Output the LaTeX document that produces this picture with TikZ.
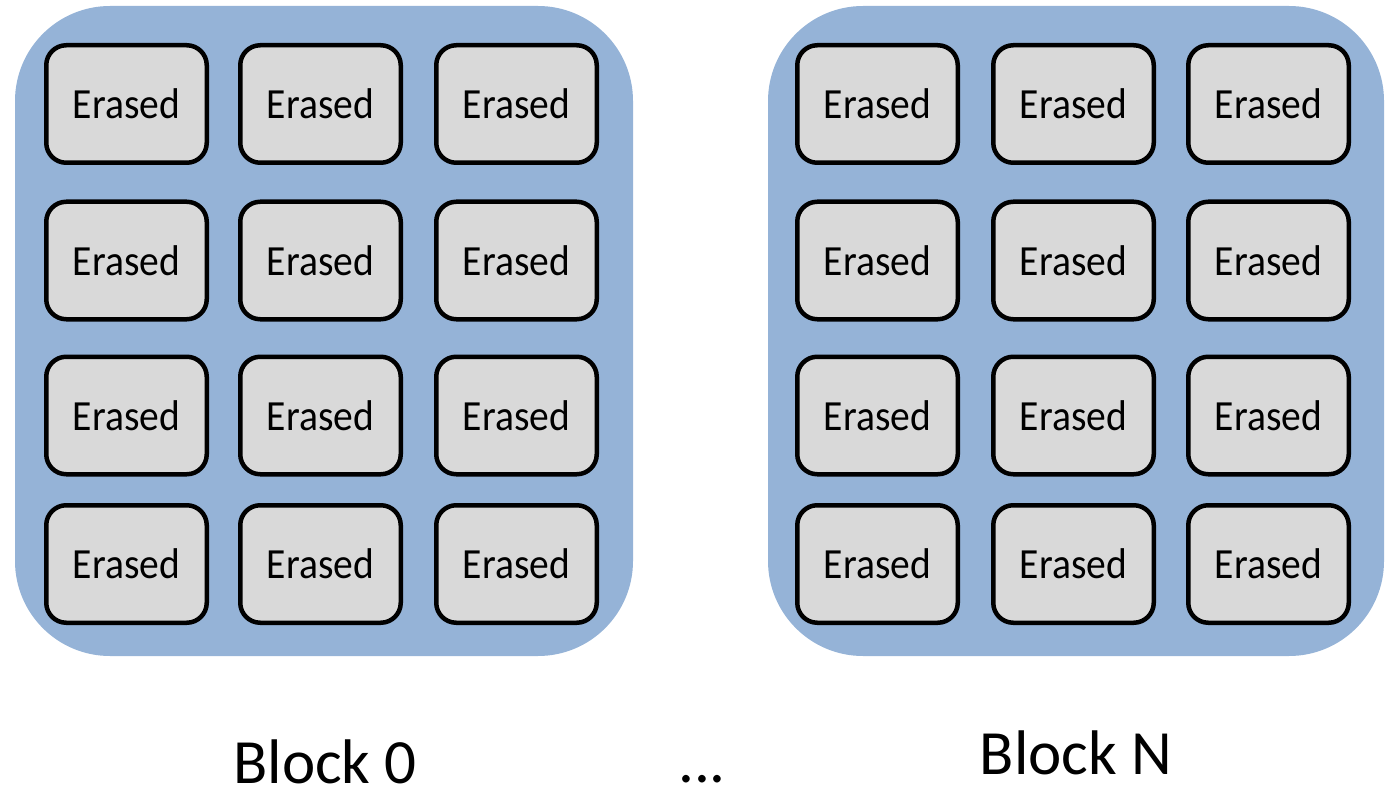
\documentclass[tikz,border=0pt]{standalone}
\usepackage{fontspec}
\setmainfont{Carlito}
\newcommand{\pagelabel}{\scalebox{0.92}[1]{Erased}}
\begin{document}
\begin{tikzpicture}[x=1pt,y=-1pt,
  blockbg/.style={fill=blockblue, rounded corners=95pt},
  cell/.style={draw=black, line width=4.5pt, fill=cellgray, rounded corners=20pt,
    minimum width=160.5pt, minimum height=117.5pt, inner sep=0pt,
    font=\fontsize{43}{50}\selectfont},
  caption/.style={anchor=base, inner sep=0pt, font=\fontsize{63}{70}\selectfont}]
\definecolor{blockblue}{HTML}{95B3D7}
\definecolor{cellgray}{HTML}{D9D9D9}
\useasboundingbox (0,0) rectangle (1394,786);
% the two blocks
\fill[blockbg] (15,6) rectangle (633,656);
\fill[blockbg] (768,6) rectangle (1384,656);
% pages of block 0
\foreach \c/\x in {1/126.5,2/320.5,3/516.5}{
  \foreach \r/\y in {1/104,2/260.5,3/415.5,4/564}{
    \node[cell] (a\r\c) at (\x,\y) {\pagelabel};
  }
}
% pages of block N
\foreach \c/\x in {1/877.5,2/1073.5,3/1268.5}{
  \foreach \r/\y in {1/104,2/260.5,3/415.5,4/564}{
    \node[cell] (n\r\c) at (\x,\y) {\pagelabel};
  }
}
% captions
\node[caption] (lab0) at (325,783) {Block 0};
\node[caption] (dots) at (702,782) {...};
\node[caption] (labN) at (1076,774) {Block N};
\end{tikzpicture}
\end{document}
